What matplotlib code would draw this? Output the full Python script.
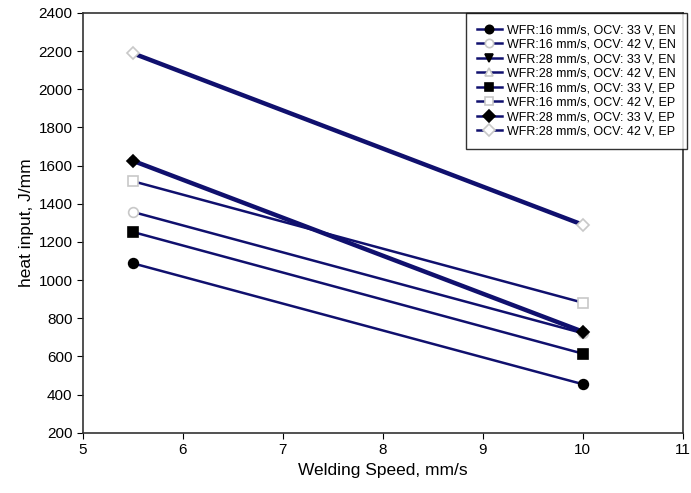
import matplotlib
matplotlib.use('Agg')
import matplotlib.pyplot as plt

plt.rcParams['font.family'] = ['Liberation Sans', 'DejaVu Sans']

speed = [5.5, 10]

labels = ['WFR:16 mm/s, OCV: 33 V, EN',
          'WFR:16 mm/s, OCV: 42 V, EN',
          'WFR:28 mm/s, OCV: 33 V, EN',
          'WFR:28 mm/s, OCV: 42 V, EN',
          'WFR:16 mm/s, OCV: 33 V, EP',
          'WFR:16 mm/s, OCV: 42 V, EP',
          'WFR:28 mm/s, OCV: 33 V, EP',
          'WFR:28 mm/s, OCV: 42 V, EP']

heat_en_16_33 = [1088, 455]
heat_en_16_42 = [1357, 722]
heat_en_28_33 = [1625, 730]
heat_en_28_42 = [2188, 1290]
heat_ep_16_33 = [1252, 615]
heat_ep_16_42 = [1518, 882]
heat_ep_28_33 = [1625, 730]
heat_ep_28_42 = [2188, 1290]

series = [heat_en_16_33, heat_en_16_42, heat_en_28_33, heat_en_28_42,
          heat_ep_16_33, heat_ep_16_42, heat_ep_28_33, heat_ep_28_42]
markers = ['o', 'o', 'v', '^', 's', 's', 'D', 'D']
filled = [True, False, True, False, True, False, True, False]

navy = '#10106e'
grey = '#c8c8c8'

fig = plt.figure(figsize=(6.91, 4.93), dpi=100)
ax = fig.add_axes([0.120, 0.122, 0.868, 0.852])

for i, (vals, lab, m, f) in enumerate(zip(series, labels, markers, filled)):
    lw = 1.8
    ms = 7
    if i in (2, 3):
        # EN 28 mm/s runs sit underneath the EP ones
        lw = 3.2
        ms = 4
    if m == 'D':
        ms = 6.5
    ax.plot(speed, vals, color=navy, lw=lw, label=lab, marker=m,
            markersize=ms,
            markerfacecolor='black' if f else 'white',
            markeredgecolor='black' if f else grey,
            markeredgewidth=1.2)

ax.set_xlim(5, 11)
ax.set_ylim(200, 2400)
ax.set_xticks(range(5, 12))
ax.set_yticks(range(200, 2401, 200))
ax.tick_params(direction='out', length=4, labelsize=11, colors='black')
ax.set_xlabel('Welding Speed, mm/s', fontsize=12.5)
ax.set_ylabel('heat input, J/mm', fontsize=12.5, labelpad=3)
for s in ax.spines.values():
    s.set_color('#333333')
    s.set_linewidth(1.2)

leg = ax.legend(loc='upper right', bbox_to_anchor=(1.007, 1.0), fontsize=9,
                frameon=True, fancybox=False, edgecolor='black',
                handlelength=2.0, labelspacing=0.2, borderaxespad=0,
                borderpad=0.9, handletextpad=0.4, markerscale=0.85)
leg.get_frame().set_linewidth(1.0)
for line in leg.get_lines():
    line.set_linewidth(1.8)
    line.set_markersize(6)

fig.savefig('out.png', dpi=100)
